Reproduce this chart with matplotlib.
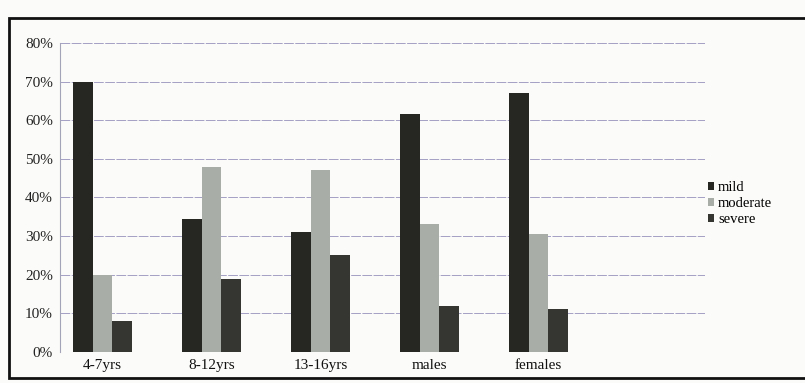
import matplotlib.pyplot as plt
import matplotlib.patches as patches
import numpy as np

groups = ['4-7yrs', '8-12yrs', '13-16yrs', 'males', 'females']
mild = [70, 34.5, 31, 61.5, 67]
moderate = [20, 48, 47, 33, 30.5]
severe = [8, 19, 25, 12, 11]

plt.rcParams['font.family'] = ['Liberation Serif', 'DejaVu Serif']

fig = plt.figure(figsize=(8.05, 3.83), dpi=100)
fig.patch.set_facecolor('#fbfbf9')
ax = fig.add_axes([0.0745, 0.081, 0.8015, 0.807])
ax.set_facecolor('#fbfbf9')

x = np.arange(len(groups))
w = 0.178
ax.bar(x - w, np.array(mild) / 100, w, color='#262623', label='mild', zorder=3)
ax.bar(x, np.array(moderate) / 100, w, color='#a9ada7', label='moderate', zorder=3)
ax.bar(x + w, np.array(severe) / 100, w, color='#353632', label='severe', zorder=3)

ax.set_ylim(0, 0.8)
ax.set_xlim(-0.39, 5.53)
ax.set_yticks(np.arange(0, 0.81, 0.1))
ax.set_yticklabels([f'{int(v)}%' for v in np.arange(0, 81, 10)], fontsize=11, color='#222222')
ax.set_xticks(x)
ax.set_xticklabels(groups, fontsize=11, color='#111111')
ax.tick_params(axis='both', length=0, pad=5)
ax.grid(axis='y', color='#9490bc', linewidth=0.7, linestyle=(0, (10, 1.5)), alpha=0.85, zorder=0)
for s in ['top', 'right', 'bottom']:
    ax.spines[s].set_visible(False)
ax.spines['left'].set_color('#a4a4b8')
ax.spines['left'].set_linewidth(0.8)

ax.legend(loc='center left', bbox_to_anchor=(0.995, 0.48), frameon=False, fontsize=10.5,
          handlelength=0.45, handleheight=0.45, handletextpad=0.25, labelspacing=0.2,
          borderaxespad=0)

fig.add_artist(patches.Rectangle((0.011, 0.012), 0.99, 0.942, transform=fig.transFigure,
                                 fill=False, edgecolor='#111111', linewidth=2))

fig.savefig('out.png', dpi=100, facecolor=fig.get_facecolor())
